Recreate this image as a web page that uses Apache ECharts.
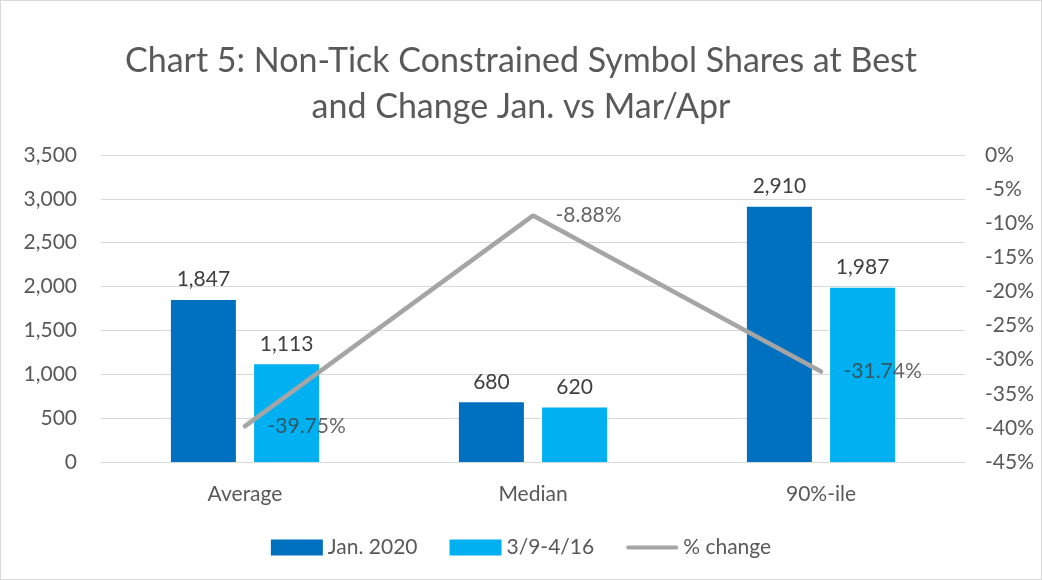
<!DOCTYPE html>
<html>
<head>
<meta charset="utf-8">
<script src="https://cdn.jsdelivr.net/npm/echarts@6/dist/echarts.min.js"></script>
<style>
  html, body { margin: 0; padding: 0; background: #fff; }
  #chart { width: 1040px; height: 578px; border: 1px solid #d9d9d9; }
</style>
</head>
<body>
<div id="chart"></div>
<script>
  // chart data
  var categories = ['Average', 'Median', '90%-ile'];
  var janValues = [1847, 680, 2910];
  var marAprValues = [1113, 620, 1987];
  var pctChange = [-39.75, -8.88, -31.74];

  var myChart = echarts.init(document.getElementById('chart'));
  var font = 'Lato, "Liberation Sans", sans-serif';
  var fmtNum = function (p) { return p.value.toLocaleString('en-US'); };

  var option = {
    backgroundColor: '#fff',
    textStyle: { fontFamily: font },
    title: {
      text: 'Chart 5: Non-Tick Constrained Symbol Shares at Best\nand Change Jan. vs Mar/Apr',
      left: 'center',
      top: 32,
      textStyle: { color: '#595959', fontSize: 34, fontWeight: 'normal', lineHeight: 46, fontFamily: font }
    },
    legend: {
      bottom: 16,
      left: 'center',
      itemGap: 32,
      itemWidth: 52,
      itemHeight: 16,
      textStyle: { color: '#595959', fontSize: 21, fontFamily: font },
      data: [
        { name: 'Jan. 2020', icon: 'rect' },
        { name: '3/9-4/16', icon: 'rect' },
        { name: '% change', icon: 'path://M2,0 L50,0 A2,2 0 0 1 50,4 L2,4 A2,2 0 0 1 2,0 Z' }
      ]
    },
    grid: { left: 100, right: 76, top: 154, bottom: 117 },
    xAxis: {
      type: 'category',
      data: categories,
      axisTick: { show: false },
      axisLine: { lineStyle: { color: '#d9d9d9' } },
      axisLabel: { color: '#595959', fontSize: 21, margin: 22 }
    },
    yAxis: [{
      type: 'value',
      min: 0, max: 3500, interval: 500,
      axisLabel: {
        color: '#595959', fontSize: 21, margin: 24,
        formatter: function (v) { return v.toLocaleString('en-US'); }
      },
      splitLine: { lineStyle: { color: '#d9d9d9', width: 1 } }
    }, {
      type: 'value',
      min: -45, max: 0, interval: 5,
      axisLabel: {
        color: '#595959', fontSize: 21, margin: 20,
        formatter: '{value}%'
      },
      splitLine: { show: false }
    }],
    series: [{
      name: 'Jan. 2020',
      type: 'bar',
      barWidth: 65,
      barGap: '28%',
      itemStyle: { color: '#0070C0' },
      label: { show: true, position: 'top', distance: 10, color: '#404040', fontSize: 21, formatter: fmtNum },
      data: janValues
    }, {
      name: '3/9-4/16',
      type: 'bar',
      barWidth: 65,
      itemStyle: { color: '#00B0F0' },
      label: { show: true, position: 'top', distance: 10, color: '#404040', fontSize: 21, formatter: fmtNum },
      data: marAprValues
    }, {
      name: '% change',
      type: 'line',
      yAxisIndex: 1,
      symbol: 'none',
      lineStyle: { color: '#A5A5A5', width: 4.5, cap: 'round' },
      itemStyle: { color: '#A5A5A5' },
      z: 5,
      data: pctChange
    }, {
      name: 'pct labels',
      type: 'scatter',
      yAxisIndex: 1,
      symbolSize: 1,
      itemStyle: { color: 'rgba(0,0,0,0)' },
      label: {
        show: true, position: 'right', distance: 22,
        color: '#404040', fontSize: 21,
        formatter: function (p) { return p.value.toFixed(2) + '%'; }
      },
      z: 6,
      data: pctChange
    }]
  };
  myChart.setOption(option);
</script>
</body>
</html>
